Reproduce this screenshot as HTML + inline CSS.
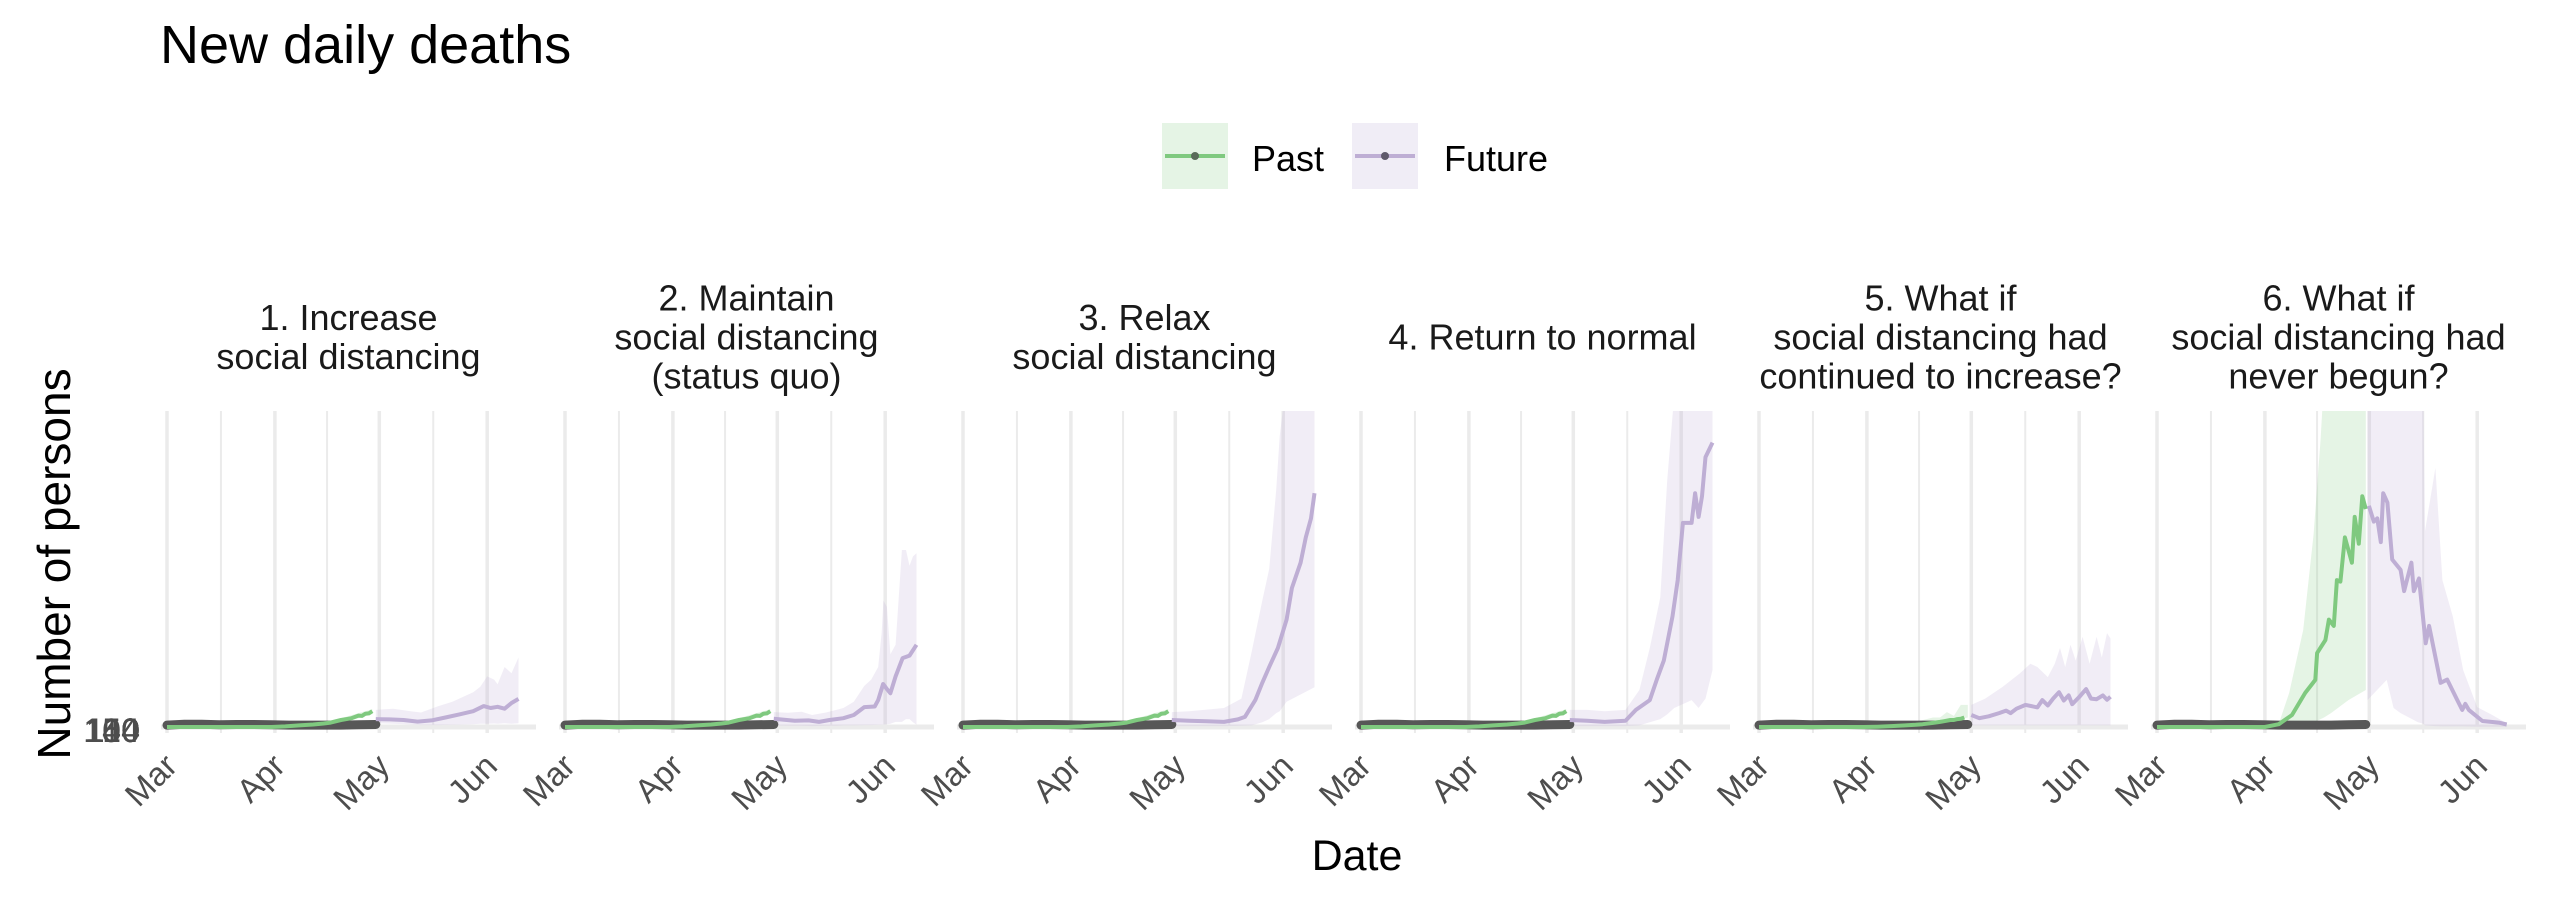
<!DOCTYPE html>
<html>
<head>
<meta charset="utf-8">
<style>
  html, body { margin: 0; padding: 0; background: #ffffff; }
  svg { display: block; font-family: "Liberation Sans", Arial, sans-serif; }
</style>
</head>
<body>
<svg id="chart" width="2550" height="900" viewBox="0 0 2550 900" xmlns="http://www.w3.org/2000/svg">
  <rect x="0" y="0" width="2550" height="900" fill="#ffffff"/>
  <text x="160" y="63" font-size="54" fill="#000">New daily deaths</text>

  <g>
    <g>
      <rect x="1162" y="123" width="66" height="66" fill="#e5f4e5"/>
      <line x1="1165" y1="156" x2="1225" y2="156" stroke="#7fc97f" stroke-width="4"/>
      <circle cx="1195" cy="156" r="4" fill="#5a6b5a"/>
      <text x="1252" y="171" font-size="36" fill="#000">Past</text>
    </g>
    <g>
      <rect x="1352" y="123" width="66" height="66" fill="#f0edf6"/>
      <line x1="1355" y1="156" x2="1415" y2="156" stroke="#beaed4" stroke-width="4"/>
      <circle cx="1385" cy="156" r="4" fill="#5f5a6b"/>
      <text x="1444" y="171" font-size="36" fill="#000">Future</text>
    </g>
  </g>

  <g font-size="34" fill="#4d4d4d" text-anchor="end">
    <text x="140" y="742">150</text>
    <text x="140" y="742">100</text>
    <text x="140" y="742">114</text>
    <text x="140" y="742">40</text>
    <text x="140" y="742">0</text>
  </g>

  <text transform="translate(70,564) rotate(-90)" text-anchor="middle" font-size="46" fill="#000">Number of persons</text>
  <text x="1357" y="870" text-anchor="middle" font-size="43" fill="#000">Date</text>

  <defs id="defs"></defs>
  <g id="panels"></g>
</svg>

<script>
// ---- data (days since Mar 1; values in persons, per-panel free scale) ----
const panelTitles = [
  ["1. Increase", "social distancing"],
  ["2. Maintain", "social distancing", "(status quo)"],
  ["3. Relax", "social distancing"],
  ["4. Return to normal"],
  ["5. What if", "social distancing had", "continued to increase?"],
  ["6. What if", "social distancing had", "never begun?"]
];
const yMax = [100, 100, 100, 100, 100, 100];
const monthTickDays = [0, 31, 61, 92];
const monthTickLabels = ["Mar", "Apr", "May", "Jun"];
const minorTickDays = [15.5, 46, 76.5];

const observedDays = [0, 5, 10, 15, 20, 25, 30, 35, 40, 45, 50, 55, 60];
const observedVals = [0.6, 0.9, 0.9, 0.7, 0.8, 0.8, 0.7, 0.6, 0.6, 0.6, 0.6, 0.7, 0.8];

const pastDays = [
  [0,10,20,30,34,38,42,45,47,50,52,53,55,56,57,58,59],
  [0,10,20,30,34,38,42,45,47,50,52,53,55,56,57,58,59],
  [0,10,20,30,34,38,42,45,47,50,52,53,55,56,57,58,59],
  [0,10,20,30,34,38,42,45,47,50,52,53,55,56,57,58,59],
  [0,10,20,30,34,38,42,45,47,50,52,53,55,56,57,58,59],
  [0,10,20,31,35,38.8,42.6,45.5,46,48.4,49.4,50.8,51.7,52.7,54,56,56.8,58,59,60]
];
const pastVals = [
  [0,0,0,0,0.2,0.5,0.8,1.1,1.4,2.2,2.6,2.8,3.6,3.5,4.2,4.3,5],
  [0,0,0,0,0.2,0.5,0.8,1.1,1.4,2.2,2.6,2.8,3.6,3.5,4.2,4.3,5],
  [0,0,0,0,0.2,0.5,0.8,1.1,1.4,2.2,2.6,2.8,3.6,3.5,4.2,4.3,5],
  [0,0,0,0,0.2,0.5,0.8,1.1,1.4,2.2,2.6,2.8,3.6,3.5,4.2,4.3,5],
  [0,0,0,0,0.1,0.3,0.5,0.7,0.9,1.3,1.6,1.8,2.2,2.2,2.5,2.6,3],
  [0,0,0,0,0.9,3.8,10.8,14.9,23.4,27.5,34,32,46.5,46,60,52,66.5,58,73,69]
];
const pastRibDays = [
  [45,50,55,59], [45,50,55,59], [45,50,55,59], [45,50,55,59],
  [45,50,52,54,56,58,60],
  [33,35,38,42,45,47,48,50,55,60]
];
const pastRibHi = [
  [1.5,2.8,4.4,5.6], [1.5,2.8,4.4,5.6], [1.5,2.8,4.4,5.6], [1.5,2.8,4.4,5.6],
  [1.6,3,3,4.7,3.5,7,7],
  [0,1,10.8,30.7,61,91,110,110,110,110]
];
const pastRibLo = [
  [0.8,1.6,2.8,4.2], [0.8,1.6,2.8,4.2], [0.8,1.6,2.8,4.2], [0.8,1.6,2.8,4.2],
  [0.6,1.2,1.4,2,2,2.5,3],
  [0,0,0.5,1,1.5,2.5,3,4.4,8.5,11.7]
];

const futureDays = [
  [60,64,68,72,76,80,84,88,91,93,95,97,99,101],
  [60,63,66,70,73,76,80,83,86,89,90,91.4,92.5,93.5,95,97,99,101],
  [60,65,70,75,79,81,84,86,88,90.5,93,94.5,97,98.5,100,101],
  [60,65,70,76,79,83,85,87,89.5,91,92.5,95,96,97,98,99,101],
  [61,63.3,66,69,71,72.3,74,76.6,80,81.4,83,84.5,86.2,87.6,89,90,92,94,95.4,97,98.8,100,101],
  [60.9,62.3,63.3,64.3,65,66.2,67.6,70,71,73.1,73.8,75.3,77.2,78.2,81.5,83.4,86.3,87.7,88.6,89.6,93.5,98.2,100.5]
];
const futureVals = [
  [2.5,2.4,2.2,1.7,2.1,3.0,4.0,5.0,6.6,6.0,6.4,5.8,7.6,8.9],
  [2.6,2.3,2.0,2.1,1.6,2.2,2.8,3.8,6.3,6.5,8.5,13.6,12,10.7,16,21.8,22.6,26],
  [2.2,2.0,1.8,1.6,2.4,3.2,8.5,14,19,25,34,44,52,60,66,74],
  [2.2,2.0,1.6,2.0,5.4,8.5,15,21,35,46.5,64.6,64.6,74,66.5,73,85.4,90],
  [3.8,2.8,3.4,4.4,5.2,4.4,5.8,7,6.2,8.5,6.8,9,11,8.4,10,7.2,9.5,12,9,8.8,10,8.6,9.6],
  [70,65,66,58.5,74,71,53,49.7,43,52,43,47,26.5,32,14,15,8.5,5.4,7.3,5.4,1.9,1.4,0.8]
];
const futureRibDays = [
  [60,65,70,73,78,82,85,88,90,92,94,95,97,99,101],
  [60,64,68,71,75,78,80,83,86,88,90,91,91.5,92.5,93.5,95,96.8,98,99,100,101],
  [60,65,70,75,80,83,86,88,90,91,93,101],
  [60,65,70,76,80,83,86,88,90,92,95,97,99,101],
  [61,65,70,75,78,80,83,85,86.5,88,89.5,91,93,95,97,98.5,100,101],
  [60.5,64,66,68,70,75,76.5,77,80,82,85,88,92,96,100.5]
];
const futureRibHi = [
  [5.4,5.8,5,4.6,6.6,8,9.5,11,12.7,16,15,13.5,19,17,22],
  [4.7,4.5,4.8,3.8,4.6,5.4,6,8,13,15,19,30,40,38,23,26,56,56,51,54,55],
  [4.7,5,5.5,6,9,24,40,50,75,92,110,110],
  [5.4,5.4,5,5.4,11.7,25,41,78,105,110,110,110,110,110],
  [7,9,12.7,17,20,19,15.8,20,25,19,26,21,28.5,20,28.5,22,29.7,28],
  [110,110,110,110,110,110,110,62,82,46.5,35,18,6.3,4,1.2]
];
const futureRibLo = [
  [1.2,1,0.8,0.6,0.6,0.7,0.8,0.9,1,1,1.1,1,1.2,1,1.2],
  [0.5,0.4,0.4,0.3,0.4,0.4,0.5,0.5,0.6,0.6,0.7,0.7,0.8,0.9,1,1.6,1.6,2.5,2.5,1.5,0.7],
  [0.3,0.3,0.3,0.3,0.4,0.5,1.5,2.5,4.4,5,8,12.6],
  [0.3,0.3,0.3,0.3,0.5,1.5,2.5,4,6,7,8.5,6,9,18],
  [0.5,0.5,0.5,0.5,0.5,0.5,0.5,0.5,0.5,0.5,0.5,0.5,0.5,0.5,0.5,0.5,0.5,0.5],
  [8.5,12.6,14.9,6,4.4,1.5,1,0.5,0.3,0.2,0.2,0.2,0.1,0.1,0.1]
];

// ---- layout ----
const NS = "http://www.w3.org/2000/svg";
const PANEL_LEFT0 = 161, PANEL_STRIDE = 398, PANEL_W = 375;
const PLOT_TOP = 411, PLOT_ZERO = 727, PLOT_BOTTOM = 733;
const DAY_PX = 3.48, DAY0_OFFSET = 6;

function xScale(p, day) { return PANEL_LEFT0 + p * PANEL_STRIDE + DAY0_OFFSET + day * DAY_PX; }
function yScale(p, v) { return PLOT_ZERO - (v / yMax[p]) * (PLOT_ZERO - PLOT_TOP); }

function mk(tag, attrs, parent) {
  const el = document.createElementNS(NS, tag);
  for (const k in attrs) el.setAttribute(k, attrs[k]);
  parent.appendChild(el);
  return el;
}
function linePath(p, days, vals) {
  return days.map((d, i) => (i ? "L" : "M") + xScale(p, d).toFixed(1) + "," + yScale(p, vals[i]).toFixed(1)).join("");
}
function ribbonPath(p, days, hi, lo) {
  let s = days.map((d, i) => (i ? "L" : "M") + xScale(p, d).toFixed(1) + "," + yScale(p, hi[i]).toFixed(1)).join("");
  for (let i = days.length - 1; i >= 0; i--) s += "L" + xScale(p, days[i]).toFixed(1) + "," + yScale(p, lo[i]).toFixed(1);
  return s + "Z";
}

const defs = document.getElementById("defs");
const root = document.getElementById("panels");

panelTitles.forEach((lines, p) => {
  const left = PANEL_LEFT0 + p * PANEL_STRIDE;
  const g = mk("g", {}, root);
  
  

  const n = lines.length;
  lines.forEach((t, k) => {
    const tx = mk("text", { x: left + PANEL_W / 2, y: 349.5 + (k - (n - 1) / 2) * 39, "text-anchor": "middle", "font-size": 36, fill: "#1a1a1a" }, g);
    tx.textContent = t;
    
    
  });

  const cp = mk("clipPath", { id: "clip" + p }, defs);
  mk("rect", { x: left, y: PLOT_TOP, width: PANEL_W, height: PLOT_BOTTOM - PLOT_TOP + 4 }, cp);

  minorTickDays.forEach(d => {
    const l = mk("line", { x1: xScale(p, d), x2: xScale(p, d), y1: PLOT_TOP, y2: PLOT_BOTTOM, stroke: "#ebebeb", "stroke-width": 2 }, g);
    
    
  });
  monthTickDays.forEach(d => {
    const l = mk("line", { x1: xScale(p, d), x2: xScale(p, d), y1: PLOT_TOP, y2: PLOT_BOTTOM, stroke: "#ebebeb", "stroke-width": 3.5 }, g);
    
    
  });
  const zl = mk("line", { x1: left, x2: left + PANEL_W, y1: PLOT_ZERO, y2: PLOT_ZERO, stroke: "#ebebeb", "stroke-width": 5 }, g);
  
  

  const data = mk("g", { "clip-path": "url(#clip" + p + ")" }, g);
  
  

  const rp = mk("path", { d: ribbonPath(p, pastRibDays[p], pastRibHi[p], pastRibLo[p]), fill: "rgba(127,201,127,0.2)" }, data);
  
  
  const rf = mk("path", { d: ribbonPath(p, futureRibDays[p], futureRibHi[p], futureRibLo[p]), fill: "rgba(190,174,212,0.22)" }, data);
  
  

  const ob = mk("path", { d: linePath(p, observedDays, observedVals), fill: "none", stroke: "#575757", "stroke-width": 9, "stroke-linecap": "round", "stroke-linejoin": "round" }, data);
  
  

  const pl = mk("path", { d: linePath(p, pastDays[p], pastVals[p]), fill: "none", stroke: "#7fc97f", "stroke-width": 4, "stroke-linejoin": "round" }, data);
  
  
  const fl = mk("path", { d: linePath(p, futureDays[p], futureVals[p]), fill: "none", stroke: "#beaed4", "stroke-width": 4, "stroke-linejoin": "round" }, data);
  
  

  monthTickDays.forEach((d, i) => {
    const x = xScale(p, d) + 12, y = 768;
    const t = mk("text", { x: x, y: y, "text-anchor": "end", "font-size": 33, fill: "#4d4d4d", transform: "rotate(-45 " + x + " " + y + ")" }, g);
    t.textContent = monthTickLabels[i];
    
    
  });
});
</script>
</body>
</html>
